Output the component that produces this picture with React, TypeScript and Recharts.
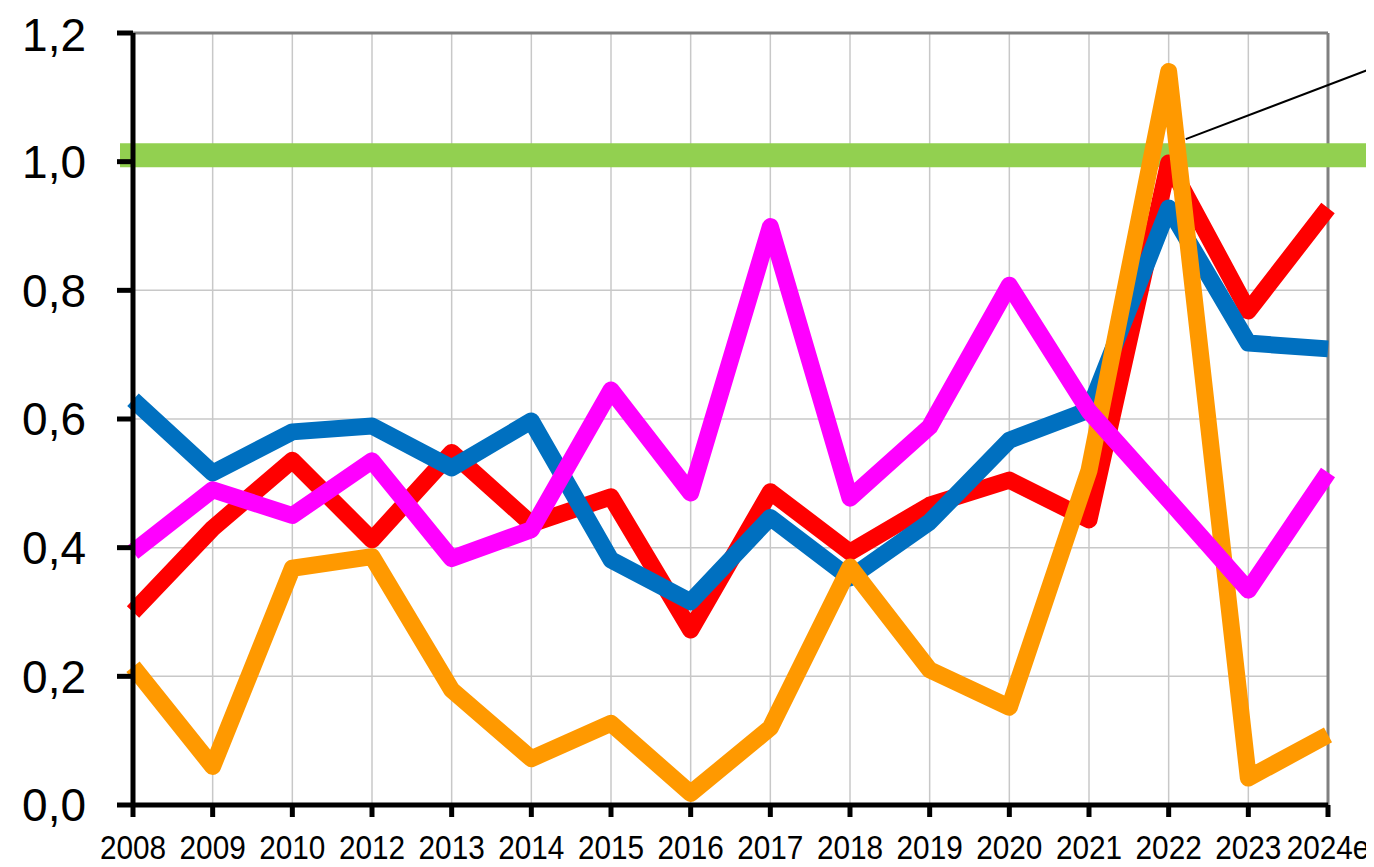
import { LineChart, Line, XAxis, YAxis, CartesianGrid, ReferenceLine } from 'recharts'

const years = ['2008', '2009', '2010', '2012', '2013', '2014', '2015', '2016', '2017', '2018', '2019', '2020', '2021', '2022', '2023', '2024e']
const redValues = [0.3, 0.43, 0.536, 0.412, 0.548, 0.437, 0.479, 0.272, 0.487, 0.393, 0.466, 0.505, 0.443, 0.998, 0.768, 0.928]
const blueValues = [0.63, 0.516, 0.58, 0.589, 0.524, 0.597, 0.381, 0.316, 0.447, 0.353, 0.44, 0.567, 0.614, 0.928, 0.718, 0.709]
const orangeValues = [0.215, 0.06, 0.368, 0.386, 0.179, 0.072, 0.127, 0.018, 0.12, 0.37, 0.21, 0.152, 0.52, 1.14, 0.042, 0.109]
const magentaValues = [0.393, 0.49, 0.45, 0.535, 0.383, 0.428, 0.645, 0.485, 0.899, 0.477, 0.588, 0.808, 0.612, 0.474, 0.334, 0.517]
const yTicks = [0, 0.2, 0.4, 0.6, 0.8, 1.0, 1.2]

const thresholdValue = 1.01
// leader line pointing off the chart (to the right)
const leaderStart = { x: '2022', y: 1.025 }
const leaderEnd = { x: '2024e', y: 1.119 }

const data = years.map((year, i) => ({
  year,
  red: redValues[i],
  blue: blueValues[i],
  orange: orangeValues[i],
  magenta: magentaValues[i],
}))

const W = 1366
const H = 859
const FONT = '"Liberation Sans", Arial, sans-serif'

function YearTick({ x, y, payload }: any) {
  return (
    <g transform={`translate(${x},${y}) scale(0.875,1)`}>
      <text x={0} y={0} dy="0.71em" textAnchor="middle" fontSize={34} fill="#000" fontFamily={FONT}>
        {payload.value}
      </text>
    </g>
  )
}

const ThresholdShape = (p: any) => (
  <line x1={p.x1 - 13} y1={p.y1} x2={W} y2={p.y2} stroke="#92D050" strokeWidth={24} />
)

const LeaderShape = (p: any) => {
  const at = (t: number) => ({ x: p.x1 + (p.x2 - p.x1) * t, y: p.y1 + (p.y2 - p.y1) * t })
  const a = at(0.107)
  const b = at(1.289)
  return <line x1={a.x} y1={a.y} x2={b.x} y2={b.y} stroke="#000" strokeWidth={2} />
}

export default function App() {
  return (
    <LineChart width={W} height={H} data={data} margin={{ top: 25, right: 46, bottom: 0, left: 0 }}>
      <CartesianGrid stroke="#c8c8c8" strokeWidth={1.5} />
      <ReferenceLine y={1.2} stroke="#808080" strokeWidth={3} />
      <ReferenceLine x="2024e" stroke="#808080" strokeWidth={3} />
      <XAxis
        dataKey="year"
        height={62}
        tick={<YearTick />}
        tickSize={12}
        tickMargin={18}
        interval={0}
        axisLine={{ stroke: '#000', strokeWidth: 5 }}
        tickLine={{ stroke: '#000', strokeWidth: 5 }}
      />
      <YAxis
        width={125}
        domain={[0, 1.2]}
        ticks={yTicks}
        allowDataOverflow
        tickFormatter={(v: number) => v.toFixed(1).replace('.', ',')}
        tick={{ fontSize: 46, fill: '#000', fontFamily: FONT }}
        tickSize={16}
        tickMargin={31}
        axisLine={{ stroke: '#000', strokeWidth: 5 }}
        tickLine={{ stroke: '#000', strokeWidth: 5 }}
      />
      <ReferenceLine y={thresholdValue} ifOverflow="visible" shape={ThresholdShape} />
      <Line dataKey="red" stroke="#FF0000" strokeWidth={17} strokeLinejoin="round" dot={false} activeDot={false} isAnimationActive={false} />
      <Line dataKey="blue" stroke="#0070C0" strokeWidth={17} strokeLinejoin="round" dot={false} activeDot={false} isAnimationActive={false} />
      <Line dataKey="orange" stroke="#FF9900" strokeWidth={17} strokeLinejoin="round" dot={false} activeDot={false} isAnimationActive={false} />
      <Line dataKey="magenta" stroke="#FF00FF" strokeWidth={17} strokeLinejoin="round" dot={false} activeDot={false} isAnimationActive={false} />
      <ReferenceLine segment={[leaderStart, leaderEnd]} ifOverflow="visible" shape={LeaderShape} />
    </LineChart>
  )
}
